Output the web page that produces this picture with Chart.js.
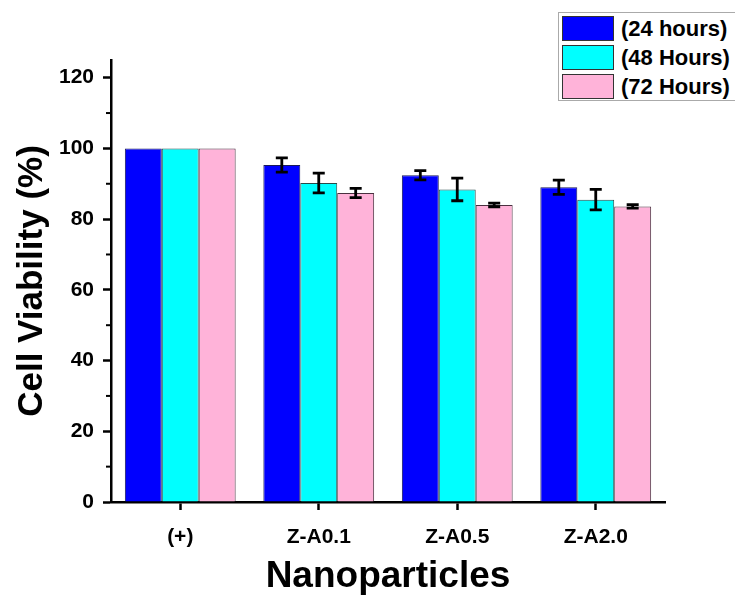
<!DOCTYPE html>
<html>
<head>
<meta charset="utf-8">
<script src="https://cdn.jsdelivr.net/npm/chart.js@4.4.0/dist/chart.umd.min.js"></script>
<style>
  html, body { margin: 0; padding: 0; background: #fff; overflow: hidden; }
  #wrap { position: relative; width: 735px; height: 595px; overflow: hidden; }
  #legend { position: absolute; left: 558px; top: 12px; width: 200px; height: 89px;
            border: 1.5px solid #aaa; background: #fff; box-sizing: border-box;
            font-family: "Liberation Sans", Arial, sans-serif; font-weight: bold; font-size: 22px; color: #000; }
  .item { position: absolute; left: 3px; height: 26px; display: flex; align-items: center; }
  .sw { width: 52px; height: 25px; box-sizing: border-box; border: 1.5px solid #333; margin-right: 7px; }
</style>
</head>
<body>
<div id="wrap">
  <canvas id="c" width="735" height="595"></canvas>
  <div id="legend"></div>
</div>
<script>
const categories = ['(+)', 'Z-A0.1', 'Z-A0.5', 'Z-A2.0'];
const seriesLabels = ['(24 hours)', '(48 Hours)', '(72 Hours)'];
const v24 = [100, 95.3, 92.4, 89.0];
const e24 = [0, 2.0, 1.3, 2.0];
const v48 = [100, 90.2, 88.4, 85.5];
const e48 = [0, 2.8, 3.2, 2.9];
const v72 = [100, 87.4, 84.0, 83.6];
const e72 = [0, 1.3, 0.5, 0.5];
const yTicks = [0, 20, 40, 60, 80, 100, 120];

const colors = ['#0000FF', '#00FFFF', '#FFB3D9'];
const borders = ['#1a1a5a', '#2a4a4a', '#4a3040'];

const errorBars = {
  id: 'errorBars',
  afterDatasetsDraw(chart) {
    const ctx = chart.ctx;
    const ys = chart.scales.y;
    chart.data.datasets.forEach((ds, i) => {
      const meta = chart.getDatasetMeta(i);
      meta.data.forEach((el, j) => {
        const e = ds.errors[j];
        if (!e) return;
        const v = ds.data[j];
        const top = ys.getPixelForValue(v + e);
        const bot = ys.getPixelForValue(v - e);
        ctx.save();
        ctx.strokeStyle = '#000';
        ctx.lineWidth = 2.8;
        ctx.beginPath();
        ctx.moveTo(el.x, top); ctx.lineTo(el.x, bot);
        ctx.moveTo(el.x - 6, top); ctx.lineTo(el.x + 6, top);
        ctx.moveTo(el.x - 6, bot); ctx.lineTo(el.x + 6, bot);
        ctx.stroke();
        ctx.restore();
      });
    });
  }
};

const minorTicks = {
  id: 'minorTicks',
  afterDraw(chart) {
    const ctx = chart.ctx;
    const ys = chart.scales.y;
    const x0 = chart.chartArea.left;
    ctx.save();
    ctx.strokeStyle = '#000';
    ctx.lineWidth = 2;
    for (let i = 0; i < yTicks.length - 1; i++) {
      const v = (yTicks[i] + yTicks[i + 1]) / 2;
      const y = ys.getPixelForValue(v);
      ctx.beginPath();
      ctx.moveTo(x0 - 5, y); ctx.lineTo(x0, y);
      ctx.stroke();
    }
    ctx.restore();
  }
};

const datasets = [v24, v48, v72].map((vals, i) => ({
  label: seriesLabels[i],
  data: vals,
  errors: [e24, e48, e72][i],
  backgroundColor: colors[i],
  borderColor: borders[i],
  borderWidth: 1,
  categoryPercentage: 0.8,
  barPercentage: 1.0
}));

new Chart(document.getElementById('c'), {
  type: 'bar',
  data: { labels: categories, datasets },
  options: {
    responsive: false,
    animation: false,
    layout: { padding: { top: 60, right: 70, left: 0, bottom: 0 } },
    plugins: { legend: { display: false }, tooltip: { enabled: false } },
    scales: {
      x: {
        afterFit: s => { s.height = 93; },
        border: { display: true, color: '#000', width: 2.5 },
        grid: { display: true, drawOnChartArea: false, offset: false, tickLength: 8, tickWidth: 2.5, tickColor: '#000' },
        ticks: { color: '#000', padding: 15, font: { family: 'Liberation Sans', weight: 'bold', size: 21 } },
        title: { display: true, text: 'Nanoparticles', color: '#000', padding: { top: 0, bottom: 0 },
                 font: { family: 'Liberation Sans', weight: 'bold', size: 37, lineHeight: 1 } }
      },
      y: {
        min: 0, max: 125,
        afterFit: s => { s.width = 111; },
        afterBuildTicks: s => { s.ticks = yTicks.map(v => ({ value: v })); },
        border: { display: true, color: '#000', width: 2.5 },
        grid: { display: true, drawOnChartArea: false, tickLength: 8, tickWidth: 2.5, tickColor: '#000' },
        ticks: { color: '#000', padding: 9, font: { family: 'Liberation Sans', weight: 'bold', size: 21 } },
        title: { display: true, text: 'Cell Viability (%)', color: '#000', padding: { top: 15, bottom: 0 },
                 font: { family: 'Liberation Sans', weight: 'bold', size: 35, lineHeight: 1 } }
      }
    }
  },
  plugins: [errorBars, minorTicks]
});

const leg = document.getElementById('legend');
seriesLabels.forEach((lab, i) => {
  const it = document.createElement('div');
  it.className = 'item';
  it.style.top = (2.5 + i * 29) + 'px';
  const sw = document.createElement('div');
  sw.className = 'sw';
  sw.style.background = colors[i];
  const tx = document.createElement('span');
  tx.textContent = lab;
  it.appendChild(sw); it.appendChild(tx);
  leg.appendChild(it);
});
</script>
</body>
</html>
